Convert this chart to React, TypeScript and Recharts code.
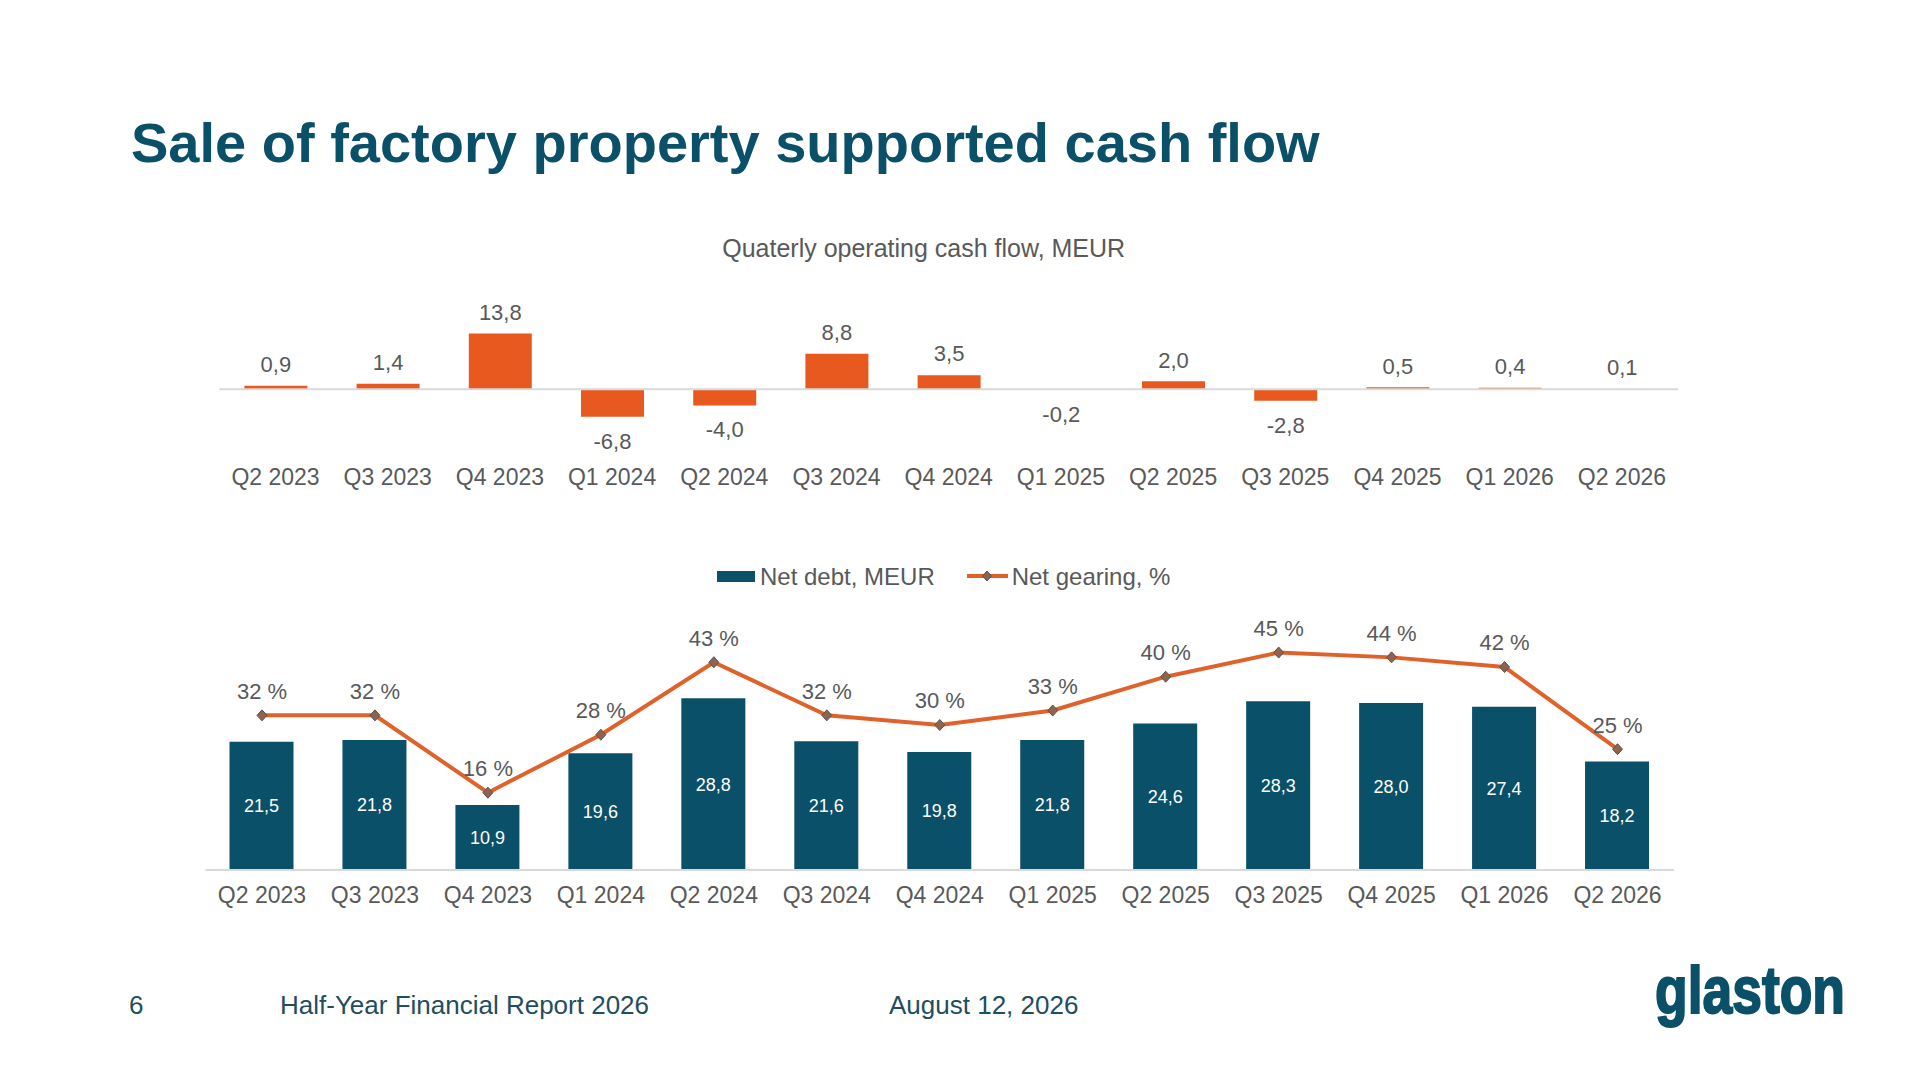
import React from 'react';
import {
    BarChart,
    ComposedChart,
    Bar,
    Line,
    XAxis,
    YAxis,
    ReferenceLine,
    LabelList,
} from 'recharts';

const quarters = [
    'Q2 2023', 'Q3 2023', 'Q4 2023', 'Q1 2024', 'Q2 2024', 'Q3 2024', 'Q4 2024',
    'Q1 2025', 'Q2 2025', 'Q3 2025', 'Q4 2025', 'Q1 2026', 'Q2 2026',
];
const operatingCashFlow = [0.9, 1.4, 13.8, -6.8, -4.0, 8.8, 3.5, -0.2, 2.0, -2.8, 0.5, 0.4, 0.1];
const netDebt = [21.5, 21.8, 10.9, 19.6, 28.8, 21.6, 19.8, 21.8, 24.6, 28.3, 28.0, 27.4, 18.2];
const netGearing = [32, 32, 16, 28, 43, 32, 30, 33, 40, 45, 44, 42, 25];

const FONT = '"Liberation Sans", Arial, Helvetica, sans-serif';
const GRAY = '#595959';
const TEAL = '#0B5069';
const ORANGE = '#E8591F';
const LINE_ORANGE = '#E0622B';
const FOOTER = '#1F4E5F';

const rows = quarters.map((q, i) => ({
    quarter: q,
    cash: operatingCashFlow[i],
    debt: netDebt[i],
    gearing: netGearing[i],
}));

const fmt = (v: number) => v.toFixed(1).replace('.', ',');

const CashLabel = (props: any) => {
    const { x, y, width, height, value } = props;
    const top = Math.min(y, y + height);
    const bottom = Math.max(y, y + height);
    const ty = value >= 0 ? top - 13.7 : bottom + 31.9;
    return (
        <text x={x + width / 2} y={ty} textAnchor="middle" fontSize={22} fill={GRAY} fontFamily={FONT}>
            {fmt(value)}
        </text>
    );
};

const GearingLabel = (props: any) => {
    const x = props.x ?? props.viewBox?.x;
    const y = props.y ?? props.viewBox?.y;
    return (
        <text x={x} y={y - 16.6} textAnchor="middle" fontSize={22} fill={GRAY} fontFamily={FONT}>
            {props.value} %
        </text>
    );
};

const Diamond = (p: any) => (
    <path
        key={p.index}
        d={`M${p.cx},${p.cy - 5.5}L${p.cx + 5},${p.cy}L${p.cx},${p.cy + 5.5}L${p.cx - 5},${p.cy}Z`}
        fill="#8E6450"
        stroke="#5E5048"
        strokeWidth={1}
    />
);

const tickStyle = { fill: GRAY, fontSize: 23, fontFamily: FONT };

export default function App() {
    return (
        <div style={{ position: 'relative', width: 1920, height: 1080, background: '#fff', overflow: 'hidden' }}>
            <style>{'body{margin:0}'}</style>

            <svg width={1920} height={1080} style={{ position: 'absolute', left: 0, top: 0 }} fontFamily={FONT}>
                <text x={131} y={161.7} fontSize={56} fontWeight={700} fill={TEAL}>
                    Sale of factory property supported cash flow
                </text>
                <text x={923.7} y={257} fontSize={25} fill={GRAY} textAnchor="middle">
                    Quaterly operating cash flow, MEUR
                </text>

                {/* legend of the lower chart */}
                <rect x={717} y={571} width={38} height={11} fill={TEAL} />
                <text x={760} y={584.6} fontSize={24} fill={GRAY}>Net debt, MEUR</text>
                <line x1={967} y1={576} x2={1008} y2={576} stroke={LINE_ORANGE} strokeWidth={4} />
                <path d="M987,571L991.5,576L987,581L982.5,576Z" fill="#8E6450" stroke="#5E5048" strokeWidth={1} />
                <text x={1011.7} y={584.6} fontSize={24} fill={GRAY}>Net gearing, %</text>

                {/* footer */}
                <text x={129} y={1013.5} fontSize={26} fill={FOOTER}>6</text>
                <text x={280} y={1013.5} fontSize={26} fill={FOOTER}>Half-Year Financial Report 2026</text>
                <text x={889} y={1013.5} fontSize={26} fill={FOOTER}>August 12, 2026</text>
                <text
                    x={1655}
                    y={1013}
                    fontSize={66}
                    fontWeight={700}
                    fill={TEAL}
                    stroke={TEAL}
                    strokeWidth={2}
                    textLength={190}
                    lengthAdjust="spacingAndGlyphs"
                >
                    glaston
                </text>
            </svg>

            <div style={{ position: 'absolute', left: 0, top: 230 }}>
                <BarChart
                    width={1920}
                    height={280}
                    data={rows}
                    margin={{ top: 70.2, right: 242, bottom: 0, left: 219.4 }}
                >
                    <XAxis
                        dataKey="quarter"
                        height={72.1}
                        axisLine={false}
                        tickLine={false}
                        tickSize={0}
                        tickMargin={30.7}
                        interval={0}
                        tick={tickStyle}
                    />
                    <YAxis hide domain={[-12, 22]} />
                    <ReferenceLine y={0} stroke="#D9D9D9" strokeWidth={2} />
                    <Bar dataKey="cash" fill={ORANGE} barSize={63} isAnimationActive={false}>
                        <LabelList dataKey="cash" content={CashLabel} />
                    </Bar>
                </BarChart>
            </div>

            <div style={{ position: 'absolute', left: 0, top: 540 }}>
                <ComposedChart
                    width={1920}
                    height={380}
                    data={rows}
                    margin={{ top: 61.8, right: 246, bottom: 0, left: 205.5 }}
                >
                    <XAxis
                        dataKey="quarter"
                        height={50}
                        axisLine={{ stroke: '#D9D9D9', strokeWidth: 2 }}
                        tickLine={false}
                        tickSize={0}
                        tickMargin={16.9}
                        interval={0}
                        tick={tickStyle}
                    />
                    <YAxis yAxisId="debt" hide domain={[0, 45]} />
                    <YAxis yAxisId="gearing" hide orientation="right" domain={[0, 55.5]} />
                    <Bar yAxisId="debt" dataKey="debt" fill={TEAL} barSize={64} isAnimationActive={false}>
                        <LabelList
                            dataKey="debt"
                            position="center"
                            fill="#fff"
                            fontSize={18}
                            fontFamily={FONT}
                            formatter={(v: any) => fmt(Number(v))}
                        />
                    </Bar>
                    <Line
                        yAxisId="gearing"
                        dataKey="gearing"
                        type="linear"
                        stroke={LINE_ORANGE}
                        strokeWidth={4}
                        dot={Diamond}
                        activeDot={false}
                        isAnimationActive={false}
                    >
                        <LabelList dataKey="gearing" content={GearingLabel} />
                    </Line>
                </ComposedChart>
            </div>
        </div>
    );
}
